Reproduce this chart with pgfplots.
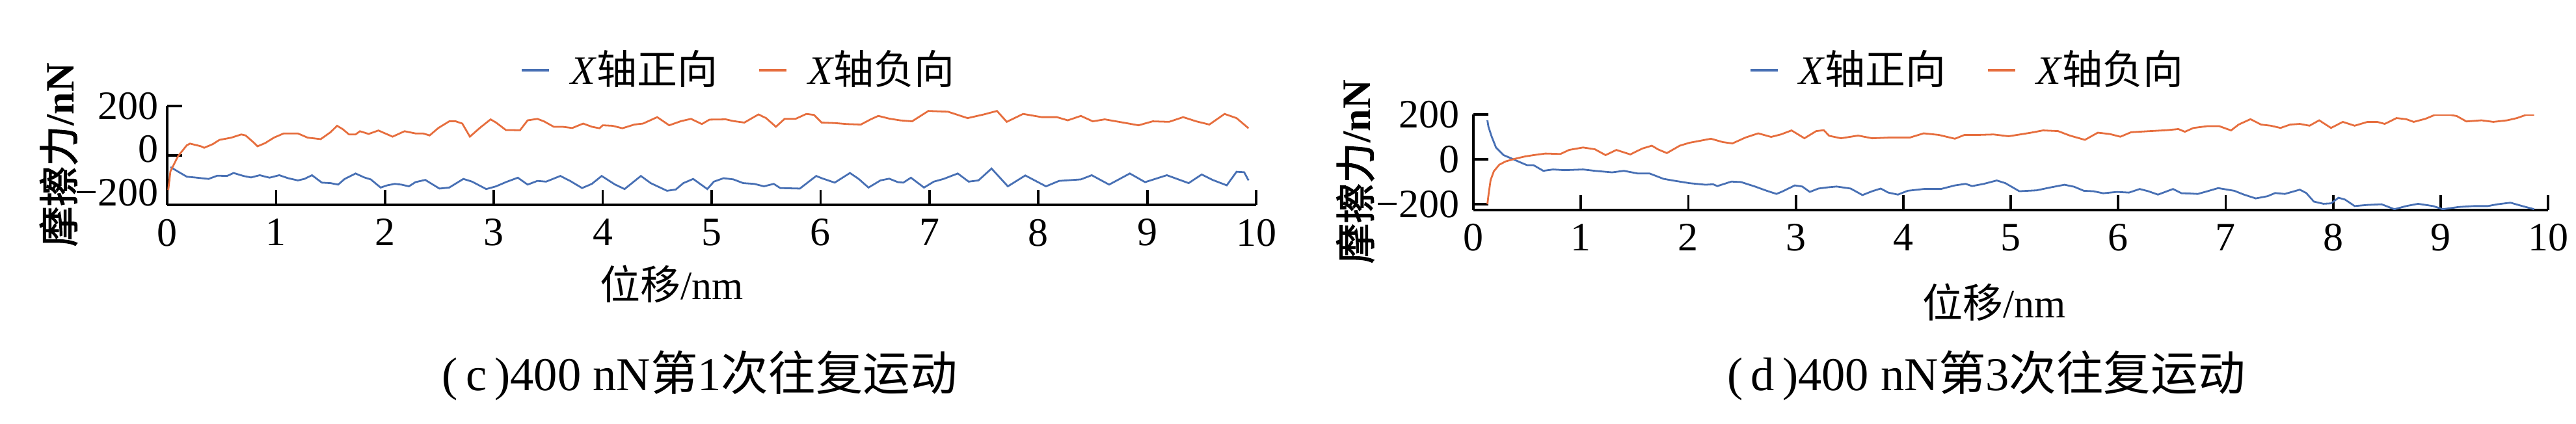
\documentclass[border=0pt]{standalone}
\usepackage{fontspec}
\setmainfont{Liberation Serif}
\newfontfamily\cjk{Noto Sans CJK SC}
\newfontfamily\cjkb[AutoFakeBold=2]{Noto Sans CJK SC}
\usepackage{pgfplots}
\pgfplotsset{compat=1.18}
\definecolor{myblue}{RGB}{72,112,180}
\definecolor{myorange}{RGB}{230,110,62}
\newcommand{\legfont}{\fontsize{10}{11}\selectfont}

\pgfplotsset{
  panel/.style={
    scale only axis,
    axis lines=left,
    axis line style={-, line width=0.65pt, black},
    every outer x axis line/.append style={-},
    every outer y axis line/.append style={-},
    tick align=inside,
    major tick length=3.7pt,
    tick style={line width=0.6pt, black},
    xmin=0, xmax=10, xtick={0,1,...,10},
    /pgf/number format/assume math mode=true,
    ticklabel style={font=\fontsize{10}{10}\selectfont},
    legend columns=2,
    legend style={draw=none, fill=none, anchor=center,
      font=\legfont,
      nodes={inner sep=0pt, font=\legfont},
      column sep=5pt,
      /tikz/every even column/.append style={column sep=10pt}},
    legend image code/.code={\draw[#1, line width=0.6pt] (0pt,0pt) -- (6.8pt,0pt);},
    every axis plot/.append style={line width=0.45pt},
  }
}

\begin{document}
\begin{tikzpicture}
\useasboundingbox (0,0) rectangle (638.7pt,105pt);

% ---------------- panel (c) ----------------
\begin{axis}[panel,
  at={(41.45pt,54.19pt)}, anchor=south west,
  width=270pt, height=24.52pt,
  ymin=-200, ymax=200, ytick={-200,0,200}, yticklabels={},
  legend style={at={(0.524,1.363)}},
]
\addplot[color=myblue] table {
x y
0.03 -47
0.11 -68
0.18 -86
0.25 -89
0.38 -95
0.46 -82
0.55 -83
0.61 -71
0.70 -83
0.77 -89
0.85 -80
0.94 -90
1.03 -80
1.11 -92
1.20 -101
1.26 -95
1.33 -80
1.42 -110
1.50 -112
1.57 -118
1.63 -95
1.73 -73
1.81 -89
1.87 -97
1.96 -130
2.02 -121
2.09 -115
2.15 -118
2.22 -125
2.28 -108
2.37 -99
2.50 -134
2.59 -130
2.72 -95
2.80 -106
2.93 -136
3.02 -125
3.11 -108
3.22 -90
3.31 -118
3.40 -103
3.48 -106
3.61 -83
3.70 -103
3.81 -132
3.90 -115
3.99 -83
4.11 -117
4.20 -136
4.35 -83
4.44 -112
4.59 -143
4.67 -138
4.74 -112
4.83 -95
4.96 -136
5.02 -106
5.11 -92
5.20 -97
5.29 -112
5.39 -115
5.48 -125
5.57 -115
5.63 -132
5.81 -134
5.96 -83
6.01 -92
6.13 -110
6.27 -71
6.35 -95
6.44 -130
6.55 -101
6.63 -94
6.71 -108
6.76 -110
6.83 -90
6.95 -130
7.04 -106
7.13 -95
7.26 -73
7.36 -106
7.45 -101
7.57 -53
7.72 -125
7.88 -81
8.07 -125
8.19 -103
8.39 -97
8.49 -80
8.65 -118
8.84 -73
8.98 -108
9.18 -80
9.38 -112
9.50 -77
9.60 -99
9.73 -121
9.82 -66
9.89 -68
9.93 -101
};
\addlegendentry{\legfont\textit{X}{\cjk 轴正向}}
\addplot[color=myorange] table {
x y
0.01 -140
0.03 -64
0.06 -38
0.10 -3
0.18 41
0.21 48
0.31 37
0.34 31
0.42 46
0.48 63
0.59 72
0.68 85
0.72 81
0.79 54
0.83 37
0.90 50
0.98 72
1.07 89
1.20 89
1.29 72
1.41 66
1.50 94
1.56 120
1.61 107
1.67 85
1.73 85
1.77 98
1.85 87
1.94 101
2.07 76
2.18 98
2.28 89
2.35 89
2.41 81
2.49 111
2.59 138
2.65 138
2.71 129
2.78 76
2.87 111
2.97 146
3.02 133
3.11 103
3.24 102
3.31 142
3.40 148
3.46 138
3.55 116
3.63 116
3.72 111
3.82 129
3.90 116
3.97 110
4.00 122
4.09 120
4.18 110
4.29 125
4.37 129
4.50 155
4.61 122
4.72 139
4.81 148
4.91 127
4.98 145
5.13 146
5.20 139
5.30 133
5.43 166
5.50 151
5.59 116
5.67 148
5.77 148
5.87 168
5.94 164
6.01 133
6.13 131
6.24 127
6.37 125
6.46 146
6.53 160
6.63 149
6.73 142
6.84 138
6.99 180
7.17 177
7.35 151
7.50 166
7.62 180
7.71 136
7.86 168
8.03 155
8.17 155
8.27 142
8.39 160
8.50 138
8.61 146
8.74 136
8.92 122
9.05 138
9.20 136
9.33 155
9.45 138
9.57 125
9.71 168
9.82 151
9.93 110
};
\addlegendentry{\legfont\textit{X}{\cjk 轴负向}}
\end{axis}
% y tick labels of panel (c), set as in the reference
\begin{scope}[font=\fontsize{10}{10}\selectfont]
\node[anchor=east, inner sep=0pt] at (39.5pt,78.7pt) {200};
\node[anchor=east, inner sep=0pt] at (39.5pt,68.0pt) {0};
\node[anchor=east, inner sep=0pt] at (39.5pt,57.2pt) {−200};
\end{scope}

% ---------------- panel (d) ----------------
\begin{axis}[panel,
  at={(365.32pt,52.95pt)}, anchor=south west,
  width=266.45pt, height=23.66pt,
  ymin=-225, ymax=200, ytick={-200,0,200}, yticklabels={−200,0,200},
  legend style={at={(0.4586,1.4645)}},
]
\addplot[color=myblue] table {
x y
0.13 174
0.14 145
0.17 101
0.21 53
0.28 19
0.35 5
0.43 -12
0.50 -26
0.56 -26
0.65 -51
0.74 -45
0.85 -48
1.02 -45
1.13 -51
1.29 -58
1.40 -51
1.53 -63
1.64 -63
1.77 -87
1.88 -96
2.01 -106
2.16 -113
2.23 -111
2.27 -119
2.40 -99
2.49 -101
2.62 -121
2.73 -140
2.82 -154
2.88 -142
2.99 -116
3.06 -121
3.13 -145
3.21 -130
3.29 -125
3.38 -121
3.51 -130
3.62 -159
3.71 -142
3.79 -130
3.86 -148
3.95 -157
4.04 -140
4.19 -132
4.35 -132
4.48 -116
4.58 -109
4.64 -119
4.75 -109
4.87 -94
4.95 -106
5.08 -142
5.24 -138
5.37 -125
5.50 -113
5.59 -122
5.68 -140
5.77 -142
5.86 -151
5.99 -145
6.10 -148
6.20 -132
6.28 -142
6.37 -157
6.51 -132
6.59 -151
6.66 -152
6.74 -154
6.83 -142
6.93 -128
7.08 -140
7.17 -157
7.28 -174
7.39 -164
7.46 -150
7.55 -154
7.69 -135
7.75 -150
7.82 -188
7.91 -198
7.98 -196
8.05 -171
8.11 -179
8.20 -208
8.32 -203
8.45 -200
8.57 -222
8.68 -208
8.79 -198
8.93 -208
9.02 -222
9.17 -212
9.31 -208
9.44 -208
9.53 -200
9.65 -193
9.76 -208
9.87 -222
};
\addlegendentry{\legfont\textit{X}{\cjk 轴正向}}
\addplot[color=myorange] table {
x y
0.13 -200
0.14 -159
0.16 -92
0.19 -53
0.24 -24
0.30 -9
0.39 3
0.48 13
0.56 19
0.67 26
0.81 24
0.89 42
1.02 53
1.13 45
1.23 19
1.33 42
1.46 22
1.57 48
1.66 61
1.72 44
1.80 28
1.92 61
2.01 74
2.10 82
2.21 92
2.32 77
2.41 71
2.53 97
2.65 116
2.77 100
2.86 111
2.96 129
3.08 94
3.19 126
3.26 130
3.31 105
3.42 94
3.58 106
3.71 94
3.86 97
4.06 97
4.19 116
4.33 109
4.48 92
4.57 109
4.70 109
4.84 111
4.98 103
5.06 109
5.19 119
5.30 129
5.44 126
5.55 106
5.69 87
5.81 119
5.92 113
6.02 101
6.12 121
6.30 126
6.45 130
6.56 135
6.62 123
6.70 140
6.83 148
6.94 148
7.05 129
7.12 155
7.23 179
7.33 155
7.42 150
7.51 140
7.60 155
7.69 158
7.78 150
7.87 174
7.98 140
8.09 167
8.20 150
8.32 167
8.41 167
8.48 158
8.59 184
8.68 179
8.75 167
8.86 181
8.95 199
9.08 199
9.15 193
9.24 169
9.38 174
9.49 167
9.62 174
9.71 184
9.80 199
9.87 199
};
\addlegendentry{\legfont\textit{X}{\cjk 轴负向}}
\end{axis}

% axis labels
\node[font=\fontsize{10}{10}\selectfont] at (166.6pt,34.5pt) {{\cjk 位移}/nm};
\node[font=\fontsize{10}{10}\selectfont] at (494.4pt,30.0pt) {{\cjk 位移}/nm};
\node[font=\fontsize{10}{10}\selectfont\bfseries, rotate=90] at (14.5pt,66.6pt) {{\cjkb\bfseries 摩擦力}/nN};
\node[font=\fontsize{10}{10}\selectfont\bfseries, rotate=90] at (336pt,62.4pt) {{\cjkb\bfseries 摩擦力}/nN};

% captions
\node[font=\fontsize{11.7}{12}\selectfont] at (173.5pt,11.9pt) {(\,c\,)400 nN{\cjk 第}1{\cjk 次往复运动}};
\node[font=\fontsize{11.7}{12}\selectfont] at (492.5pt,11.9pt) {(\,d\,)400 nN{\cjk 第}3{\cjk 次往复运动}};
\end{tikzpicture}
\end{document}
